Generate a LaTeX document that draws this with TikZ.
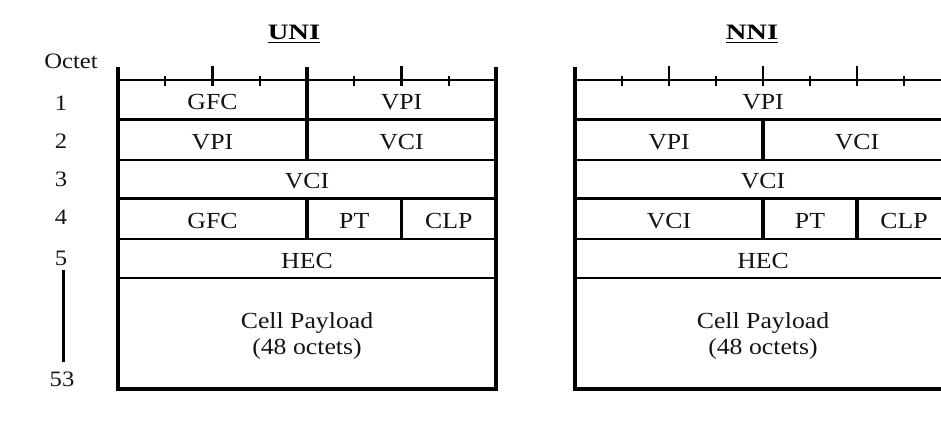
\documentclass[tikz,border=0pt]{standalone}
\usepackage{fontspec}
\setmainfont{Liberation Serif}[FakeStretch=1.12]
\newfontfamily\titlefont{Liberation Serif}[FakeStretch=1.3]
\tikzset{
  field/.style={font=\fontsize{23}{26}\selectfont, inner sep=0pt, anchor=base, text=black!92},
  octlabel/.style={font=\fontsize{22}{25}\selectfont, inner sep=0pt, anchor=base, text=black!92},
  payload/.style={font=\fontsize{23}{26}\selectfont, inner sep=0pt, align=center, text=black!92},
  headtitle/.style={font=\titlefont\bfseries\fontsize{22}{26}\selectfont, inner sep=0pt, anchor=base},
  bar/.style={line width=3.1pt},
  rowline/.style={line width=2.7pt},
  rulerline/.style={line width=2.3pt},
  minortick/.style={line width=2.4pt},
  majortick/.style={line width=2.8pt},
}
\begin{document}
\begin{tikzpicture}[x=1pt,y=-1pt]
\useasboundingbox (0,0) rectangle (941,434);
\fill[white] (0,0) rectangle (941,434);

% ---------- titles ----------
\node[headtitle] (uni) at (294,39.3) {UNI};
\draw[line width=1.7pt] ([yshift=-3.2pt]uni.base west) -- ([yshift=-3.2pt]uni.base east);
\node[headtitle] (nni) at (752,39.3) {NNI};
\draw[line width=1.7pt] ([yshift=-3.2pt]nni.base west) -- ([yshift=-3.2pt]nni.base east);

% ---------- octet column ----------
\node[octlabel] (oct) at (71,68) {Octet};
\node[octlabel] (o1) at (61,110) {1};
\node[octlabel] (o2) at (61,148) {2};
\node[octlabel] (o3) at (61,186) {3};
\node[octlabel] (o4) at (61,224) {4};
\node[octlabel] (o5) at (61,265) {5};
\node[octlabel] (o53) at (62,386) {53};
\coordinate (vtop) at (63.3,270);
\coordinate (vbot) at (63.3,362);
\draw[line width=3.2pt] (vtop) -- (vbot);

% ---------- UNI frame ----------
\draw[bar] (118,67) -- (118,389) -- (496,389) -- (496,67);
\draw[rulerline] (118,80) -- (496,80);
\foreach \x in {165.25,259.75,354.25,448.75} \draw[minortick] (\x,76) -- (\x,86);
\foreach \x in {212.5,401.5} \draw[majortick] (\x,66) -- (\x,86);
\draw[bar] (307,67) -- (307,160);
\foreach \y in {119.5,160,198.5,239,278} \draw[rowline] (118,\y) -- (496,\y);
\draw[bar] (307,198.5) -- (307,239);
\draw[bar] (401.5,198.5) -- (401.5,239);

\node[field] (ugfc1) at (212.5,109) {GFC};
\node[field] (uvpi1) at (401.5,109) {VPI};
\node[field] (uvpi2) at (212.5,149) {VPI};
\node[field] (uvci2) at (401.5,149) {VCI};
\node[field] (uvci3) at (307,188) {VCI};
\node[field] (ugfc4) at (212.5,228) {GFC};
\node[field] (upt4) at (354.25,228) {PT};
\node[field] (uclp4) at (448.75,228) {CLP};
\node[field] (uhec) at (307,268) {HEC};
\node[payload] (upay) at (307,336) {Cell Payload\\(48 octets)};

% ---------- NNI frame ----------
\draw[bar] (575,67) -- (575,389) -- (951,389) -- (951,67);
\draw[rulerline] (575,80) -- (951,80);
\foreach \x in {622,716,810,904} \draw[minortick] (\x,76) -- (\x,86);
\foreach \x in {669,763,857} \draw[majortick] (\x,66) -- (\x,86);
\foreach \y in {119.5,160,198.5,239,278} \draw[rowline] (575,\y) -- (951,\y);
\draw[bar] (763,119.5) -- (763,160);
\draw[bar] (763,198.5) -- (763,239);
\draw[bar] (857,198.5) -- (857,239);

\node[field] (nvpi1) at (763,109) {VPI};
\node[field] (nvpi2) at (669,149) {VPI};
\node[field] (nvci2) at (857,149) {VCI};
\node[field] (nvci3) at (763,188) {VCI};
\node[field] (nvci4) at (669,228) {VCI};
\node[field] (npt4) at (810,228) {PT};
\node[field] (nclp4) at (904,228) {CLP};
\node[field] (nhec) at (763,268) {HEC};
\node[payload] (npay) at (763,336) {Cell Payload\\(48 octets)};
\end{tikzpicture}
\end{document}
